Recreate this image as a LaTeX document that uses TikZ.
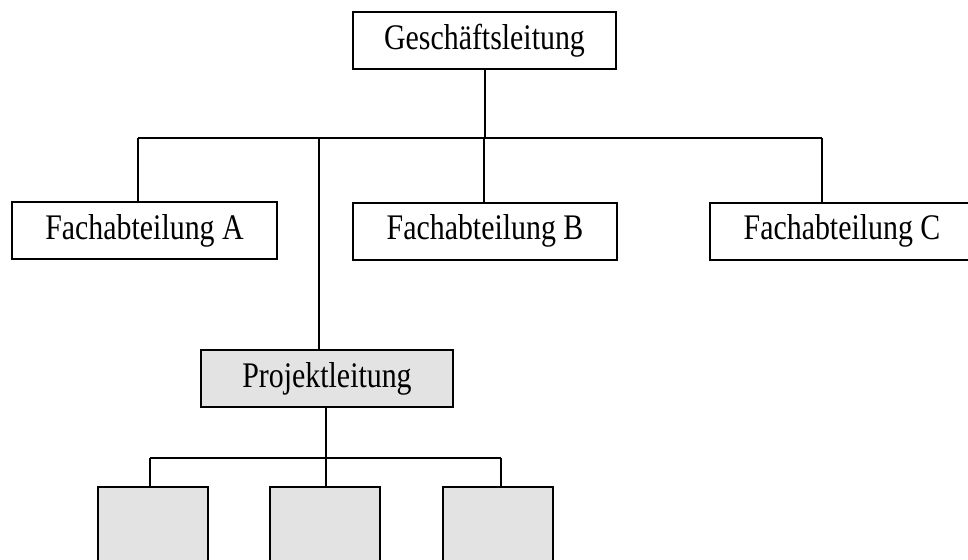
\documentclass[tikz,border=0pt]{standalone}
\usepackage{graphicx}
\usepackage{fontspec}
\setmainfont{Liberation Serif}
% labels are set tall and slightly condensed
\newcommand{\narrowlabel}[1]{\scalebox{0.83}[1]{#1}}
\begin{document}
\begin{tikzpicture}[x=1pt,y=-1pt,
  line width=2pt,
  unit/.style={draw=black, rectangle, inner sep=0pt, minimum height=57pt,
    font=\fontsize{36}{42}\selectfont},
  project/.style={unit, fill=boxgray},
  team/.style={draw=black, fill=boxgray, rectangle, inner sep=0pt,
    minimum width=110pt, minimum height=110pt},
  wire/.style={draw=black, line width=2pt}
]
\definecolor{boxgray}{HTML}{E3E3E3}
\useasboundingbox (0,0) rectangle (968,559);
\clip (0,0) rectangle (968,559);

% upper level
\node[unit, minimum width=263pt] (gl) at (484.5,40.5) {\narrowlabel{Geschäftsleitung}};
\node[unit, minimum width=265pt] (fa) at (144.5,230.5) {\narrowlabel{Fachabteilung A}};
\node[unit, minimum width=264pt] (fb) at (485,231) {\narrowlabel{Fachabteilung B}};
\node[unit, minimum width=264pt] (fc) at (842,231) {\narrowlabel{Fachabteilung C}};
\node[project, minimum width=252pt] (pl) at (327,378.5) {\narrowlabel{Projektleitung}};

% project teams
\node[team] (t1) at (152.5,542) {};
\node[team] (t2) at (324.5,542) {};
\node[team] (t3) at (498,542) {};

% upper bus
\coordinate (bA) at (138,138);
\coordinate (bP) at (319,138);
\coordinate (bB) at (484,138);
\coordinate (bC) at (822,138);
\draw[wire] (gl.south) -- (gl.south |- bB);
\draw[wire] (bA) -- (bC);
\draw[wire] (bA) -- (bA |- fa.north);
\draw[wire] (bB) -- (bB |- fb.north);
\draw[wire] (bC) -- (bC |- fc.north);
\draw[wire] (bP) -- (bP |- pl.north);

% lower bus
\coordinate (l1) at (150,458);
\coordinate (l2) at (326,458);
\coordinate (l3) at (501,458);
\draw[wire] (l2 |- pl.south) -- (l2);
\draw[wire] (l1) -- (l3);
\draw[wire] (l1) -- (l1 |- t1.north);
\draw[wire] (l2) -- (l2 |- t2.north);
\draw[wire] (l3) -- (l3 |- t3.north);
\end{tikzpicture}
\end{document}
